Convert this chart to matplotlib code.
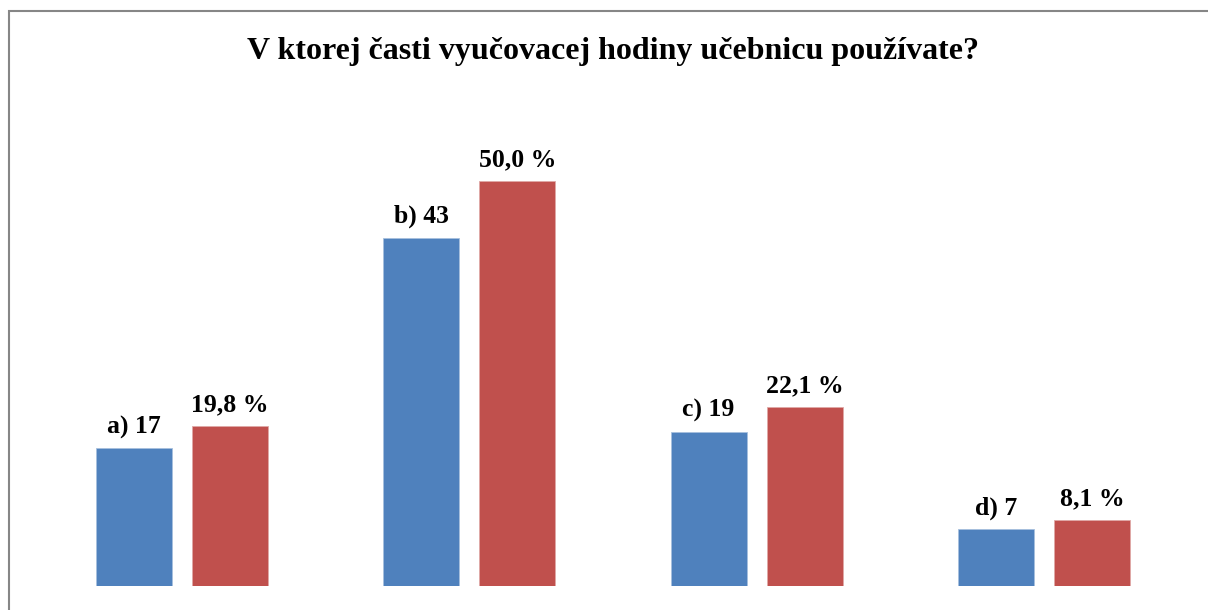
import numpy as np
import matplotlib.pyplot as plt
from matplotlib.patches import Rectangle

# survey answers: count of respondents and share in percent
categories = ['a)', 'b)', 'c)', 'd)']
counts = [17, 43, 19, 7]
percents = [19.8, 50.0, 22.1, 8.1]
title = 'V ktorej časti vyučovacej hodiny učebnicu používate?'

blue = '#4F81BD'
red = '#C0504D'

plt.rcParams['font.family'] = ['Liberation Serif', 'DejaVu Serif']

fig = plt.figure(figsize=(12.08, 6.10), dpi=100)
ax = fig.add_axes([0.0, 24 / 610, 1.0, 486 / 610])

x = np.arange(len(categories))
w = 76 / 287.3
off = 48 / 287.3

b1 = ax.bar(x - off, counts, width=w, color=blue, edgecolor='#A7C0DE', linewidth=0.6)
b2 = ax.bar(x + off, percents, width=w, color=red, edgecolor='#E0A9A7', linewidth=0.6)

for rect, cat, n in zip(b1, categories, counts):
    ax.annotate(f'{cat} {n}', (rect.get_x() + rect.get_width() / 2, rect.get_height()),
                xytext=(0, 7), textcoords='offset points', ha='center', va='bottom',
                fontsize=18.5, fontweight='bold')
for rect, p in zip(b2, percents):
    ax.annotate(f'{p:.1f} %'.replace('.', ','), (rect.get_x() + rect.get_width() / 2, rect.get_height()),
                xytext=(0, 7), textcoords='offset points', ha='center', va='bottom',
                fontsize=18.5, fontweight='bold')

# axis spans 1208 px, group centers at 182 + 287.3*i
left = -182 / 287.3
ax.set_xlim(left, left + 1208 / 287.3)
ax.set_ylim(0, 60)
ax.axis('off')

fig.text(613 / 1208, 1 - 51 / 610, title, ha='center', va='center',
         fontsize=23, fontweight='bold')

# chart frame, only left and top edges visible in the crop
fig.patches.append(Rectangle((8.5 / 1208, -0.1), 1.2, 1 - 10.5 / 610 + 0.1,
                             transform=fig.transFigure, fill=False,
                             edgecolor='#868686', linewidth=1.5))

fig.savefig('out.png', dpi=100)
